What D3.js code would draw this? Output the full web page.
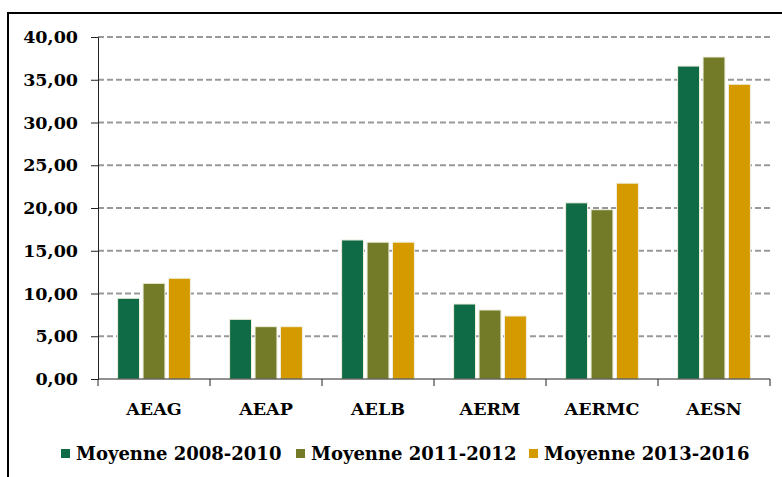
<!DOCTYPE html>
<html>
<head>
<meta charset="utf-8">
<script src="https://cdn.jsdelivr.net/npm/d3@7"></script>
<style>
  html, body { margin: 0; padding: 0; background: #fff; }
  svg { display: block; font-family: "DejaVu Serif", serif; font-weight: bold; }
</style>
</head>
<body>
<svg id="chart" width="782" height="477"></svg>
<script>
// Data
const categories = ['AEAG', 'AEAP', 'AELB', 'AERM', 'AERMC', 'AESN'];
const seriesNames = ['Moyenne 2008-2010', 'Moyenne 2011-2012', 'Moyenne 2013-2016'];
const values2008 = [9.44, 6.98, 16.26, 8.77, 20.6, 36.6];
const values2011 = [11.19, 6.12, 16.0, 8.07, 19.8, 37.66];
const values2013 = [11.78, 6.12, 16.0, 7.37, 22.9, 34.47];
const seriesColors = ['#0e6b45', '#737a28', '#d49a00'];
const yTicks = [0, 5, 10, 15, 20, 25, 30, 35, 40];

const seriesValues = [values2008, values2011, values2013];

const svg = d3.select('#chart');
const plot = { left: 98, right: 770, top: 37, bottom: 379 };

// outer frame (clipped at right/bottom like the source)
svg.append('rect')
  .attr('x', 8).attr('y', 13)
  .attr('width', 800).attr('height', 500)
  .attr('fill', 'none').attr('stroke', '#000').attr('stroke-width', 2);

const x = d3.scaleBand().domain(categories).range([plot.left, plot.right]);
const xInner = d3.scaleBand().domain(d3.range(seriesNames.length))
  .range([0, x.bandwidth()]).paddingInner(0.14).paddingOuter(0.77);
const y = d3.scaleLinear().domain([0, 40]).range([plot.bottom, plot.top]);

const fmt = v => d3.format('.2f')(v).replace('.', ',');

// Gridlines
svg.append('g').selectAll('line')
  .data(yTicks.filter(t => t > 0))
  .join('line')
    .attr('x1', plot.left).attr('x2', plot.right)
    .attr('y1', d => y(d)).attr('y2', d => y(d))
    .attr('stroke', '#999').attr('stroke-width', 2)
    .attr('stroke-dasharray', '6,3');

// Bars
const groups = svg.append('g').selectAll('g')
  .data(categories)
  .join('g')
    .attr('transform', d => `translate(${x(d)},0)`);

groups.selectAll('rect')
  .data((d, i) => seriesValues.map((s, k) => ({ k, v: s[i] })))
  .join('rect')
    .attr('x', d => xInner(d.k))
    .attr('width', xInner.bandwidth())
    .attr('y', d => y(d.v))
    .attr('height', d => y(0) - y(d.v))
    .attr('fill', d => seriesColors[d.k])
    .attr('stroke', '#eeeedd').attr('stroke-width', 1);

// Y axis
svg.append('g')
  .attr('transform', `translate(${plot.left},0)`)
  .call(d3.axisLeft(y).tickValues(yTicks).tickFormat(fmt).tickSize(7).tickPadding(13))
  .call(ax => ax.selectAll('text').attr('font-size', 17.5).attr('fill', '#000')
    .attr('font-family', '"DejaVu Serif", serif').attr('font-weight', 'bold'))
  .call(ax => ax.selectAll('line, path').attr('stroke', '#222'));

// X axis: ticks at band boundaries
const xAxisG = svg.append('g').attr('transform', `translate(0,${plot.bottom})`);
xAxisG.append('line')
  .attr('x1', plot.left).attr('x2', plot.right)
  .attr('stroke', '#222');
xAxisG.selectAll('.tk')
  .data(categories.concat(['__end']))
  .join('line')
    .attr('class', 'tk')
    .attr('x1', d => d === '__end' ? plot.right : x(d))
    .attr('x2', d => d === '__end' ? plot.right : x(d))
    .attr('y1', 0).attr('y2', 7)
    .attr('stroke', '#222');
xAxisG.selectAll('text')
  .data(categories)
  .join('text')
    .attr('x', d => x(d) + x.bandwidth() / 2)
    .attr('y', 36)
    .attr('text-anchor', 'middle')
    .attr('font-size', 17.5)
    .attr('fill', '#000')
    .text(d => d);

// Legend
const legend = svg.append('g').attr('transform', 'translate(0,460)');
const legendX = [61, 296, 529];
seriesNames.forEach((name, k) => {
  legend.append('rect')
    .attr('x', legendX[k]).attr('y', -11)
    .attr('width', 9).attr('height', 9)
    .attr('fill', seriesColors[k]);
  legend.append('text')
    .attr('x', legendX[k] + 15)
    .attr('y', 0)
    .attr('font-size', 18)
    .attr('fill', '#000')
    .text(name);
});
</script>
</body>
</html>
